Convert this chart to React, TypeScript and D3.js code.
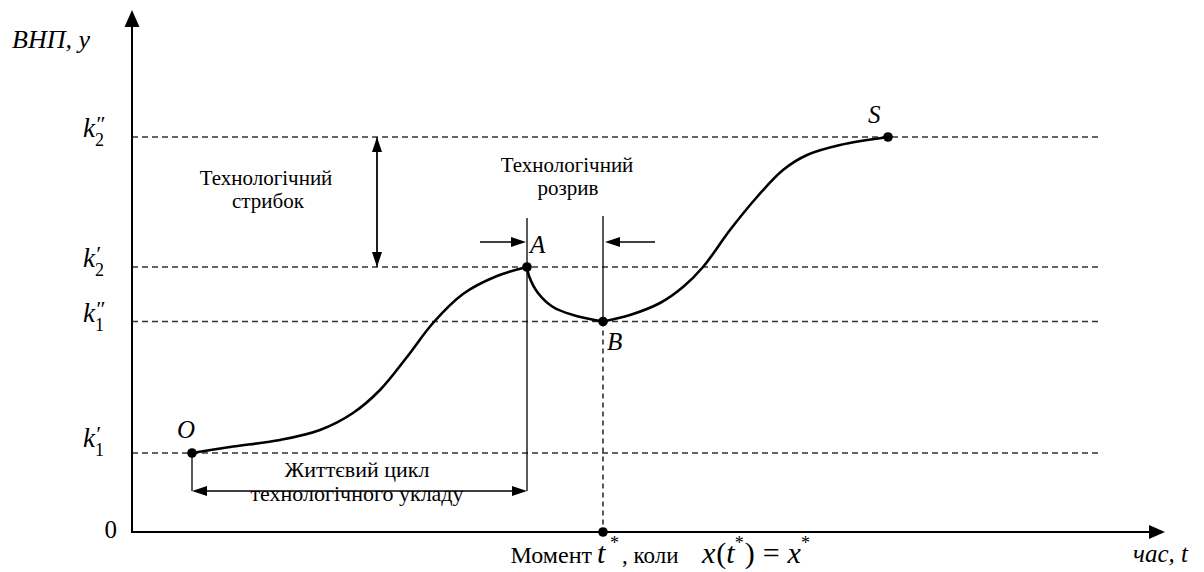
import React from "react";
import * as d3 from "d3";

// ---- data (abstract units: time 0..100, GNP 0..100) ----
const levelNames = ["k", "k", "k", "k"];
const levelSubs = ["1", "1", "2", "2"];
const levelPrimes = ["′", "″", "′", "″"];
const levelValues = [15.8, 42.1, 53.0, 79.0];

const curveOA: [number, number][] = [
  [6.0, 15.8], [9.8, 17.0], [14.8, 18.4], [18.8, 20.4], [22.1, 23.8], [24.8, 28.4],
  [27.5, 35.0], [30.1, 41.8], [33.1, 47.6], [36.5, 51.2], [39.5, 53.0],
];
const curveAB: [number, number][] = [
  [39.5, 53.0], [39.7, 51.2], [40.6, 47.8], [42.1, 45.0], [44.1, 43.4], [47.1, 42.1],
];
const curveBS: [number, number][] = [
  [47.1, 42.1], [49.8, 43.4], [52.8, 45.8], [55.1, 49.0], [57.1, 53.0], [59.8, 60.4],
  [62.5, 67.0], [65.1, 72.4], [67.5, 75.4], [70.8, 77.4], [75.6, 79.0],
];
const pointNames = ["O", "A", "B", "S"];
const pointsX = [6.0, 39.5, 47.1, 75.6];
const pointsY = [15.8, 53.0, 42.1, 79.0];

const yAxisLabel = "ВНП, y";
const xAxisLabel = "час, t";
const jumpLabel = ["Технологічний", "стрибок"];
const gapLabel = ["Технологічний", "розрив"];
const cycleLabel = ["Життєвий цикл", "технологічного укладу"];

const W = 1204;
const H = 572;
const x = d3.scaleLinear().domain([0, 100]).range([132, 1132]);
const y = d3.scaleLinear().domain([0, 100]).range([532, 32]);

function Arrow({ x1, y1, x2, y2, len = 15, half = 5, sw = 1.3 }: any) {
  const ang = Math.atan2(y2 - y1, x2 - x1);
  const bx = x2 - len * Math.cos(ang);
  const by = y2 - len * Math.sin(ang);
  const px = -Math.sin(ang) * half;
  const py = Math.cos(ang) * half;
  return (
    <g>
      <line x1={x1} y1={y1} x2={bx} y2={by} stroke="#000" strokeWidth={sw} />
      <polygon points={`${x2},${y2} ${bx + px},${by + py} ${bx - px},${by - py}`} fill="#000" />
    </g>
  );
}

function T(props: any) {
  const { children, style, ...rest } = props;
  return (
    <text {...rest} style={{ fontFamily: "Liberation Serif", ...(style || {}) }}>
      {children}
    </text>
  );
}

export default function App() {
  const lineCR = d3.line<[number, number]>().x(d => x(d[0])).y(d => y(d[1])).curve(d3.curveCatmullRom.alpha(0.5));

  const x0 = x(0);
  const yBase = y(0);
  const xEndDash = x(96.8);
  const xA = x(pointsX[1]);
  const yA = y(pointsY[1]);
  const xB = x(pointsX[2]);
  const yB = y(pointsY[2]);
  const xO = x(pointsX[0]);
  const yO = y(pointsY[0]);
  const cycleY = 491;
  const gapArrowY = 242;
  const labelDy = [-6, 0, 0, 0];

  return (
    <svg width={W} height={H} style={{ position: "absolute", left: 0, top: 0, fontFamily: "Liberation Serif" }}>
      <rect width={W} height={H} fill="#fff" />
      {/* dashed level lines */}
      {levelValues.map((v, i) => (
        <line key={"l" + i} x1={x0} x2={xEndDash} y1={y(v)} y2={y(v)} stroke="#333" strokeWidth={1.3} strokeDasharray="6,4" />
      ))}
      {/* level labels */}
      {levelValues.map((v, i) => (
        <T key={"lab" + i} x={83} y={y(v) + labelDy[i]} fontSize={27} fontStyle="italic">
          {levelNames[i]}
          <tspan fontSize={18} fontStyle="normal" dy={9}>{levelSubs[i]}</tspan>
          <tspan fontSize={22} dx={-9} dy={-15}>{levelPrimes[i]}</tspan>
        </T>
      ))}
      {/* axes */}
      <Arrow x1={x0} y1={yBase + 1} x2={x0} y2={y(104.4)} len={17} half={7.5} sw={2} />
      <Arrow x1={x0 - 1} y1={yBase} x2={x(103.3)} y2={yBase} len={16} half={7} sw={2} />
      <T x={12} y={48} fontSize={26} fontStyle="italic">{yAxisLabel}</T>
      <T x={1133} y={562} fontSize={25} fontStyle="italic">{xAxisLabel}</T>
      <T x={117} y={538} fontSize={25} textAnchor="end">0</T>

      {/* technological jump */}
      <Arrow x1={x(24.5)} y1={y(levelValues[2])} x2={x(24.5)} y2={y(levelValues[3])} len={15} half={5} sw={1.3} />
      <Arrow x1={x(24.5)} y1={y(levelValues[3])} x2={x(24.5)} y2={y(levelValues[2])} len={15} half={5} sw={1.3} />
      <T x={266} y={185} fontSize={21} textAnchor="middle">{jumpLabel[0]}</T>
      <T x={268} y={208} fontSize={21} textAnchor="middle">{jumpLabel[1]}</T>

      {/* technological gap */}
      <T x={567} y={172} fontSize={21} textAnchor="middle">{gapLabel[0]}</T>
      <T x={568} y={195} fontSize={21} textAnchor="middle">{gapLabel[1]}</T>
      <line x1={xA} x2={xA} y1={218} y2={cycleY} stroke="#000" strokeWidth={1.3} />
      <line x1={xB} x2={xB} y1={216} y2={yB} stroke="#000" strokeWidth={1.3} />
      <line x1={xB} x2={xB} y1={yB} y2={yBase} stroke="#000" strokeWidth={1.3} strokeDasharray="5,4" />
      <Arrow x1={480} y1={gapArrowY} x2={xA - 1} y2={gapArrowY} len={15} half={5} sw={1.5} />
      <Arrow x1={655} y1={gapArrowY} x2={xB + 2} y2={gapArrowY} len={15} half={5} sw={1.5} />

      {/* life cycle */}
      <line x1={xO} x2={xO} y1={yO} y2={cycleY} stroke="#000" strokeWidth={1.3} />
      <Arrow x1={(xO + xA) / 2} y1={cycleY} x2={xO} y2={cycleY} len={15} half={5} sw={1.5} />
      <Arrow x1={(xO + xA) / 2} y1={cycleY} x2={xA} y2={cycleY} len={15} half={5} sw={1.5} />
      <T x={357} y={477} fontSize={22} textAnchor="middle">{cycleLabel[0]}</T>
      <T x={357} y={501} fontSize={22} textAnchor="middle">{cycleLabel[1]}</T>

      {/* curves */}
      <path d={lineCR(curveOA) || ""} fill="none" stroke="#000" strokeWidth={2.6} />
      <path d={lineCR(curveAB) || ""} fill="none" stroke="#000" strokeWidth={2.6} />
      <path d={lineCR(curveBS) || ""} fill="none" stroke="#000" strokeWidth={2.6} />

      {/* points */}
      {pointsX.map((px, i) => (
        <circle key={"p" + i} cx={x(px)} cy={y(pointsY[i])} r={4.8} fill="#000" />
      ))}
      <circle cx={xB} cy={yBase} r={4.8} fill="#000" />
      <T x={xO - 15} y={yO - 15} fontSize={25} fontStyle="italic">{pointNames[0]}</T>
      <T x={xA + 3} y={yA - 14} fontSize={25} fontStyle="italic">{pointNames[1]}</T>
      <T x={xB + 4} y={yB + 28} fontSize={25} fontStyle="italic">{pointNames[2]}</T>
      <T x={x(pointsX[3]) - 20} y={y(pointsY[3]) - 14} fontSize={25} fontStyle="italic">{pointNames[3]}</T>

      {/* bottom caption */}
      <T x={592} y={563} fontSize={24} textAnchor="end">Момент</T>
      <T x={597} y={563} fontSize={30} fontStyle="italic">t</T>
      <T x={610} y={549} fontSize={18}>*</T>
      <T x={622} y={563} fontSize={23}>, коли</T>
      <T x={702} y={563} fontSize={30}>
        <tspan fontStyle="italic">x</tspan>
        <tspan dx={1}>(</tspan>
        <tspan fontStyle="italic">t</tspan>
        <tspan fontSize={18} dy={-14}>*</tspan>
        <tspan dy={14} dx={1}>)</tspan>
        <tspan dx={8}>=</tspan>
        <tspan dx={8} fontStyle="italic">x</tspan>
        <tspan fontSize={18} dy={-14}>*</tspan>
      </T>
    </svg>
  );
}
